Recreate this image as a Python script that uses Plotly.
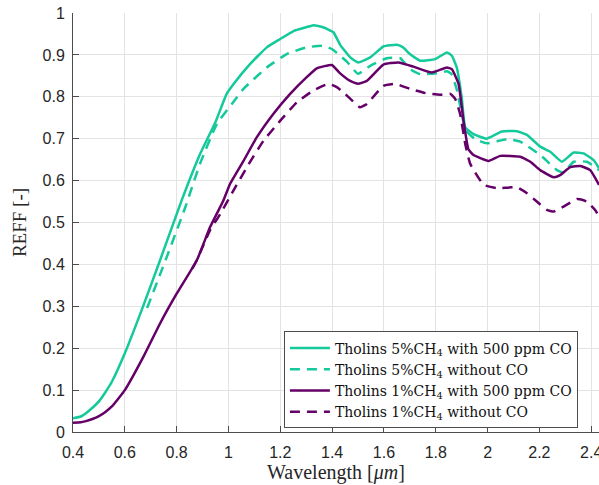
import plotly.graph_objects as go

# Wavelength (µm) and REFF values
x_5co = [0.40, 0.43, 0.45, 0.475, 0.50, 0.525, 0.55, 0.60, 0.665, 0.736, 0.82, 0.89, 0.95, 0.993, 1.019, 1.083, 1.148,
         1.20, 1.251, 1.30, 1.328, 1.365, 1.405, 1.431, 1.47, 1.50, 1.547, 1.598, 1.65, 1.674, 1.70, 1.74,
         1.798, 1.843, 1.862, 1.881, 1.90, 1.914, 1.946, 1.997, 2.055, 2.113, 2.152, 2.203, 2.242, 2.287,
         2.332, 2.37, 2.409, 2.43]
y_5co = [0.033, 0.037, 0.045, 0.058, 0.073, 0.095, 0.12, 0.188, 0.291, 0.41, 0.554, 0.663, 0.74, 0.807, 0.83, 0.878, 0.918,
         0.938, 0.957, 0.966, 0.971, 0.966, 0.954, 0.924, 0.894, 0.882, 0.894, 0.92, 0.924, 0.918, 0.902, 0.886,
         0.89, 0.906, 0.898, 0.87, 0.799, 0.727, 0.711, 0.700, 0.717, 0.718, 0.709, 0.681, 0.669, 0.645,
         0.667, 0.665, 0.649, 0.630]

x_5 = [0.686, 0.762, 0.832, 0.89, 0.955, 1.013, 1.058, 1.148, 1.225, 1.302, 1.366, 1.399, 1.431, 1.457,
       1.50, 1.547, 1.611, 1.663, 1.70, 1.74, 1.804, 1.843, 1.86, 1.88, 1.90, 1.915, 1.95, 1.997, 2.074,
       2.126, 2.203, 2.268, 2.293, 2.332, 2.383, 2.43]
y_5 = [0.296, 0.418, 0.534, 0.64, 0.735, 0.783, 0.819, 0.870, 0.902, 0.918, 0.922, 0.914, 0.898, 0.884,
       0.855, 0.874, 0.892, 0.892, 0.866, 0.854, 0.856, 0.861, 0.855, 0.82, 0.76, 0.72, 0.70, 0.689, 0.699,
       0.693, 0.661, 0.625, 0.619, 0.645, 0.645, 0.625]

x_1co = [0.40, 0.43, 0.45, 0.475, 0.50, 0.525, 0.55, 0.60, 0.672, 0.736, 0.80, 0.878, 0.929, 0.98, 1.006, 1.058, 1.109, 1.173,
         1.238, 1.302, 1.341, 1.399, 1.431, 1.47, 1.50, 1.534, 1.598, 1.656, 1.714, 1.785, 1.843, 1.862,
         1.888, 1.907, 1.926, 1.946, 2.004, 2.049, 2.126, 2.165, 2.203, 2.255, 2.28, 2.319, 2.358, 2.396, 2.43]
y_1co = [0.022, 0.023, 0.026, 0.031, 0.038, 0.048, 0.061, 0.10, 0.18, 0.259, 0.33, 0.41, 0.489, 0.552, 0.592, 0.647, 0.703, 0.759,
         0.807, 0.847, 0.868, 0.876, 0.856, 0.838, 0.831, 0.838, 0.877, 0.882, 0.872, 0.858, 0.87, 0.866,
         0.831, 0.743, 0.675, 0.661, 0.647, 0.659, 0.657, 0.645, 0.625, 0.608, 0.613, 0.632, 0.635, 0.625, 0.59]

x_1 = [0.86, 0.878, 0.929, 0.968, 1.019, 1.071, 1.135, 1.20, 1.264, 1.328, 1.386, 1.418, 1.45, 1.508, 1.534,
       1.598, 1.643, 1.70, 1.766, 1.817, 1.856, 1.875, 1.894, 1.914, 1.933, 1.985, 2.036, 2.113, 2.152, 2.19,
       2.229, 2.255, 2.293, 2.345, 2.383, 2.415, 2.43]
y_1 = [0.39, 0.41, 0.482, 0.52, 0.576, 0.632, 0.695, 0.743, 0.787, 0.815, 0.831, 0.823, 0.807, 0.775, 0.783,
       0.826, 0.831, 0.819, 0.808, 0.805, 0.807, 0.795, 0.759, 0.687, 0.64, 0.59, 0.582, 0.584, 0.57, 0.55,
       0.53, 0.526, 0.538, 0.556, 0.55, 0.53, 0.514]

x_ticks = [0.4, 0.6, 0.8, 1.0, 1.2, 1.4, 1.6, 1.8, 2.0, 2.2, 2.4]
x_ticklabels = ["0.4", "0.6", "0.8", "1", "1.2", "1.4", "1.6", "1.8", "2", "2.2", "2.4"]
y_ticks = [0, 0.1, 0.2, 0.3, 0.4, 0.5, 0.6, 0.7, 0.8, 0.9, 1.0]
y_ticklabels = ["0", "0.1", "0.2", "0.3", "0.4", "0.5", "0.6", "0.7", "0.8", "0.9", "1"]

GREEN = "#14C99A"
PURPLE = "#650068"
DASH = "10px,7px"
LINE = dict(width=2.5, shape="spline", smoothing=0.4)

fig = go.Figure()
fig.add_trace(go.Scatter(x=x_5co, y=y_5co, mode="lines", name="Tholins 5%CH<sub>4</sub> with 500 ppm CO",
                         line=dict(color=GREEN, **LINE)))
fig.add_trace(go.Scatter(x=x_5, y=y_5, mode="lines", name="Tholins 5%CH<sub>4</sub> without CO",
                         line=dict(color=GREEN, dash=DASH, **LINE)))
fig.add_trace(go.Scatter(x=x_1co, y=y_1co, mode="lines", name="Tholins 1%CH<sub>4</sub> with 500 ppm CO",
                         line=dict(color=PURPLE, **LINE)))
fig.add_trace(go.Scatter(x=x_1, y=y_1, mode="lines", name="Tholins 1%CH<sub>4</sub> without CO",
                         line=dict(color=PURPLE, dash=DASH, **LINE)))

SERIF = "Liberation Serif, DejaVu Serif, serif"
axis_common = dict(
    showgrid=True, gridcolor="#E3E3E3", gridwidth=1,
    showline=True, linecolor="#4D4D4D", linewidth=1,
    ticks="inside", ticklen=6, tickcolor="#4D4D4D",
    tickfont=dict(family="Liberation Sans, Arial, sans-serif", size=16, color="#262626"),
    zeroline=False, mirror=False, automargin=False, ticklabeloverflow="allow",
)

fig.update_layout(
    width=599, height=485,
    margin=dict(l=73, r=0, t=13, b=53),
    paper_bgcolor="white", plot_bgcolor="white",
    xaxis=dict(range=[0.4, 2.43], tickvals=x_ticks, ticktext=x_ticklabels, ticklabelstandoff=6,
               title=dict(text="Wavelength [<i>μm</i>]", standoff=0,
                          font=dict(family=SERIF, size=20, color="#262626")),
               **axis_common),
    yaxis=dict(range=[0, 1], tickvals=y_ticks, ticktext=y_ticklabels, ticklabelstandoff=4,
               title=dict(text="REFF [-]", standoff=10,
                          font=dict(family=SERIF, size=19, color="#262626")),
               **axis_common),
    legend=dict(x=0.401, y=0.24, xanchor="left", yanchor="top",
                bgcolor="white", bordercolor="#4D4D4D", borderwidth=1,
                font=dict(family="DejaVu Serif, serif", size=14, color="#111111"),
                tracegroupgap=0, itemwidth=40),
    showlegend=True,
)

# remove the default 8px page margin so the figure fills the window exactly
fig.write_html("out.html",
               config={"displayModeBar": False},
               post_script="document.body.style.margin='0';document.body.style.overflow='hidden';")
